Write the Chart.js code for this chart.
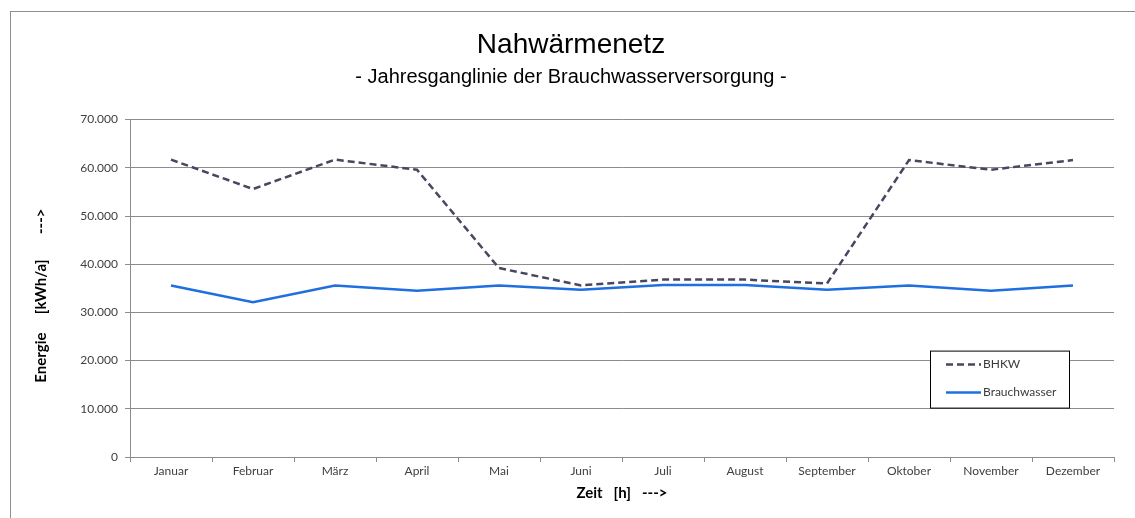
<!DOCTYPE html>
<html>
<head>
<meta charset="utf-8">
<title>Nahwärmenetz</title>
<script src="https://cdn.jsdelivr.net/npm/chart.js@4"></script>
<style>
    html, body { margin: 0; padding: 0; background: #fff; overflow: hidden; }
    #wrap { position: relative; width: 1135px; height: 518px; overflow: hidden; }
    #frame {
        position: absolute; left: 10px; top: 11px; right: -20px; bottom: -20px;
        border: 1px solid #8f8f8f; pointer-events: none;
    }
</style>
</head>
<body>
<div id="wrap">
    <canvas id="chart" width="1135" height="518"></canvas>
    <div id="frame"></div>
</div>
<script>
/* =========================
   DATA
========================= */
const months = ["Januar", "Februar", "März", "April", "Mai", "Juni",
    "Juli", "August", "September", "Oktober", "November", "Dezember"];

const bhkw = [61700, 55600, 61700, 59600, 39200, 35600,
    36800, 36800, 36000, 61600, 59600, 61600];

const brauchwasser = [35600, 32100, 35600, 34500, 35600, 34700,
    35700, 35700, 34700, 35600, 34500, 35600];

const yTicks = [0, 10000, 20000, 30000, 40000, 50000, 60000, 70000];

/* =========================
   HELPERS
========================= */
function formatDE(v) {
    // thousands separator as dot, e.g. 70.000
    return String(v).replace(/\B(?=(\d{3})+(?!\d))/g, ".");
}

const nb = n => "\u00a0".repeat(n);

/* =========================
   LEGEND (BOX IN PLOT)
========================= */
const boxLegend = {
    id: "boxLegend",
    afterDraw(chart) {
        const ctx = chart.ctx;
        const area = chart.chartArea;
        const x = area.right - 184;
        const y = area.top + 231;
        const w = 139;
        const h = 57;

        ctx.save();
        ctx.fillStyle = "#fff";
        ctx.fillRect(x, y, w, h);
        ctx.strokeStyle = "#000";
        ctx.lineWidth = 1;
        ctx.strokeRect(x + 0.5, y + 0.5, w, h);

        ctx.font = "12px Lato";
        ctx.textBaseline = "middle";
        chart.data.datasets.forEach((ds, i) => {
            const ly = y + 14 + i * 28;
            ctx.beginPath();
            ctx.strokeStyle = ds.borderColor;
            ctx.lineWidth = ds.borderWidth;
            ctx.setLineDash(ds.borderDash || []);
            ctx.moveTo(x + 16, ly);
            ctx.lineTo(x + 51, ly);
            ctx.stroke();
            ctx.setLineDash([]);
            ctx.fillStyle = "#3a3a3a";
            ctx.fillText(ds.label, x + 53, ly);
        });
        ctx.restore();
    }
};

/* =========================
   CHART
========================= */
const gridColor = "#8c8c8c";

new Chart(document.getElementById("chart"), {
    type: "line",
    data: {
        labels: months,
        datasets: [
            {
                label: "BHKW",
                data: bhkw,
                borderColor: "#4a4560",
                borderWidth: 2.5,
                borderDash: [7, 4],
                pointRadius: 0,
                tension: 0,
                fill: false
            },
            {
                label: "Brauchwasser",
                data: brauchwasser,
                borderColor: "#1f6fe0",
                borderWidth: 2.5,
                pointRadius: 0,
                tension: 0,
                fill: false
            }
        ]
    },
    options: {
        responsive: false,
        animation: false,
        layout: {
            padding: { left: 28, right: 21, top: 12, bottom: 10 }
        },
        plugins: {
            legend: { display: false },
            tooltip: { enabled: false },
            title: {
                display: true,
                text: "Nahwärmenetz",
                color: "#000",
                font: { family: "Liberation Sans", size: 28, weight: "normal" },
                padding: { top: 16, bottom: 4 }
            },
            subtitle: {
                display: true,
                text: "- Jahresganglinie der Brauchwasserversorgung -",
                color: "#000",
                font: { family: "Liberation Sans", size: 20, weight: "normal" },
                padding: { top: 0, bottom: 30 }
            }
        },
        scales: {
            x: {
                offset: true,
                grid: {
                    offset: true,
                    drawOnChartArea: false,
                    drawTicks: true,
                    tickLength: 5,
                    color: gridColor
                },
                border: { color: gridColor },
                ticks: {
                    color: "#404040",
                    font: { family: "Lato", size: 12 },
                    padding: 2,
                    maxRotation: 0,
                    autoSkip: false
                },
                title: {
                    display: true,
                    text: "Zeit" + nb(3) + "[h]" + nb(3) + "--->",
                    color: "#000",
                    font: { family: "Lato", size: 15, weight: "bold" },
                    padding: { top: 0, bottom: 6 }
                },
                afterFit(scale) { scale.height = 51; }
            },
            y: {
                min: 0,
                max: 70000,
                afterBuildTicks(scale) {
                    scale.ticks = yTicks.map(v => ({ value: v }));
                },
                grid: {
                    color: gridColor,
                    tickLength: 5
                },
                border: { color: gridColor },
                ticks: {
                    color: "#404040",
                    font: { family: "Lato", size: 12 },
                    padding: 7,
                    callback: v => formatDE(v)
                },
                title: {
                    display: true,
                    text: "Energie" + nb(5) + "[kWh/a]" + nb(7) + "--->" + nb(4),
                    color: "#000",
                    font: { family: "Lato", size: 15, weight: "bold" },
                    padding: { top: 4, bottom: 4 }
                },
                afterFit(scale) { scale.width = 102; }
            }
        }
    },
    plugins: [boxLegend]
});
</script>
</body>
</html>
